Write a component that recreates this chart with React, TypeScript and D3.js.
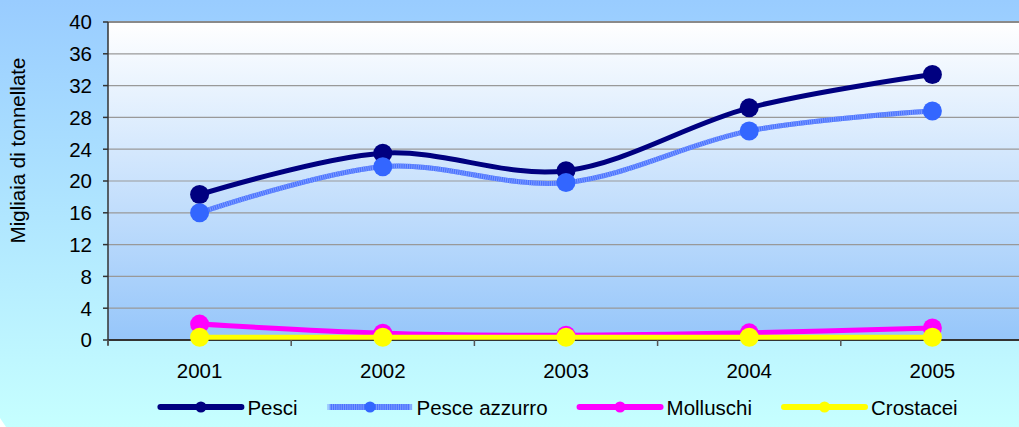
import { useMemo } from "react";
import * as d3 from "d3";

const years = ["2001", "2002", "2003", "2004", "2005"];
const pesci = [18.3, 23.5, 21.3, 29.2, 33.4];
const pesceAzzurro = [16.0, 21.8, 19.8, 26.3, 28.8];
const molluschi = [2.0, 0.85, 0.6, 0.9, 1.5];
const crostacei = [0.35, 0.35, 0.35, 0.35, 0.35];
const yTicks = [0, 4, 8, 12, 16, 20, 24, 28, 32, 36, 40];

const FONT = "'Liberation Sans', Arial, sans-serif";
const FS = 20.5;

const series = [
  { name: "Pesci", values: pesci, color: "#000080", marker: "#000080", textured: false },
  { name: "Pesce azzurro", values: pesceAzzurro, color: "#4a72ff", marker: "#3366ff", textured: true },
  { name: "Molluschi", values: molluschi, color: "#ff00ff", marker: "#ff00ff", textured: false },
  { name: "Crostacei", values: crostacei, color: "#ffff00", marker: "#ffff00", textured: false },
];

export default function App() {
  const width = 1019;
  const height = 427;
  const plot = { left: 108, right: 1024, top: 22, bottom: 340 };

  const x = d3.scaleBand<string>().domain(years).range([plot.left, plot.right]).padding(0);
  const y = d3.scaleLinear().domain([0, 40]).range([plot.bottom, plot.top]);
  const cx = (yr: string) => x(yr)! + x.bandwidth() / 2;

  const line = d3
    .line<number>()
    .x((_, i) => cx(years[i]))
    .y(d => y(d))
    .curve(d3.curveCardinal.tension(0));

  // legend layout: measure the labels so the row can be centred
  const legend = useMemo(() => {
    const ctx = document.createElement("canvas").getContext("2d")!;
    ctx.font = `${FS}px ${FONT}`;
    const lineLen = 85;
    const gapText = 4;
    const gapItem = 30;
    const widths = series.map(s => ctx.measureText(s.name).width);
    const total = widths.reduce((a, w) => a + lineLen + gapText + w, 0) + gapItem * (series.length - 1);
    let pos = 558 - total / 2;
    return series.map((s, i) => {
      const item = { ...s, x0: pos, x1: pos + lineLen, tx: pos + lineLen + gapText };
      pos += lineLen + gapText + widths[i] + gapItem;
      return item;
    });
  }, []);

  return (
    <svg
      width={width}
      height={height}
      style={{ position: "absolute", left: 0, top: 0, display: "block" }}
      fontFamily={FONT}
    >
      <defs>
        <linearGradient id="bg" x1="0" y1="0" x2="0" y2="1">
          <stop offset="0" stopColor="#99ccff" />
          <stop offset="1" stopColor="#c6ffff" />
        </linearGradient>
        <linearGradient id="plotbg" x1="0" y1="0" x2="0" y2="1">
          <stop offset="0" stopColor="#ffffff" />
          <stop offset="1" stopColor="#96c6fa" />
        </linearGradient>
        <clipPath id="clip">
          <rect x={plot.left} y={plot.top - 12} width={plot.right - plot.left} height={plot.bottom - plot.top + 24} />
        </clipPath>
      </defs>

      <rect x={0} y={0} width={width} height={height} fill="url(#bg)" />
      <path d={`M0,418 L6,${height} L0,${height} Z`} fill="#ffffff" />

      {/* plot area */}
      <rect
        x={plot.left}
        y={plot.top}
        width={plot.right - plot.left}
        height={plot.bottom - plot.top}
        fill="url(#plotbg)"
      />

      {/* grid lines */}
      {yTicks.filter(t => t > 0).map(t => (
        <line
          key={t}
          x1={plot.left}
          x2={plot.right}
          y1={y(t)}
          y2={y(t)}
          stroke={t === 40 ? "#8a8a8a" : "#999999"}
          strokeWidth={t === 40 ? 2 : 1.2}
        />
      ))}

      {/* y axis */}
      <line x1={plot.left} x2={plot.left} y1={plot.top} y2={plot.bottom + 5} stroke="#333" strokeWidth={1.5} />
      {yTicks.map(t => (
        <g key={t}>
          <line x1={plot.left - 5} x2={plot.left} y1={y(t)} y2={y(t)} stroke="#333" strokeWidth={1.5} />
          <text x={92} y={y(t)} dy="0.36em" textAnchor="end" fontSize={FS} fill="#000">
            {t}
          </text>
        </g>
      ))}
      <text
        transform={`translate(25,150.5) rotate(-90)`}
        textAnchor="middle"
        fontSize={FS}
        fill="#000"
      >
        Migliaia di tonnellate
      </text>

      {/* x axis */}
      <line x1={plot.left} x2={plot.right} y1={plot.bottom} y2={plot.bottom} stroke="#333" strokeWidth={2} />
      {years.map(yr => (
        <g key={yr}>
          <line x1={x(yr)!} x2={x(yr)!} y1={plot.bottom} y2={plot.bottom + 6} stroke="#555" strokeWidth={1.5} />
          <text x={cx(yr)} y={378} textAnchor="middle" fontSize={FS} fill="#000">
            {yr}
          </text>
        </g>
      ))}

      {/* series */}
      <g clipPath="url(#clip)">
        {series.map(s => (
          <g key={s.name}>
            <path d={line(s.values)!} fill="none" stroke={s.color} strokeWidth={5} strokeLinejoin="round" />
            {s.textured && (
              <path
                d={line(s.values)!}
                fill="none"
                stroke="#7d9cff"
                strokeWidth={5}
                strokeDasharray="1 1.2"
              />
            )}
            {s.values.map((v, i) => (
              <circle key={i} cx={cx(years[i])} cy={y(v)} r={9.5} fill={s.marker} />
            ))}
          </g>
        ))}
      </g>

      {/* legend */}
      {legend.map(s => (
        <g key={s.name}>
          <line
            x1={s.x0 + 2}
            x2={s.x1 - 2}
            y1={407}
            y2={407}
            stroke={s.color}
            strokeWidth={6}
            strokeLinecap={s.textured ? "butt" : "round"}
          />
          {s.textured && (
            <line x1={s.x0} x2={s.x1} y1={407} y2={407} stroke="#7d9cff" strokeWidth={6} strokeDasharray="1 1.2" />
          )}
          <circle cx={(s.x0 + s.x1) / 2} cy={407} r={5.5} fill={s.marker} />
          <text x={s.tx} y={414.5} fontSize={FS} fill="#000">
            {s.name}
          </text>
        </g>
      ))}
    </svg>
  );
}
